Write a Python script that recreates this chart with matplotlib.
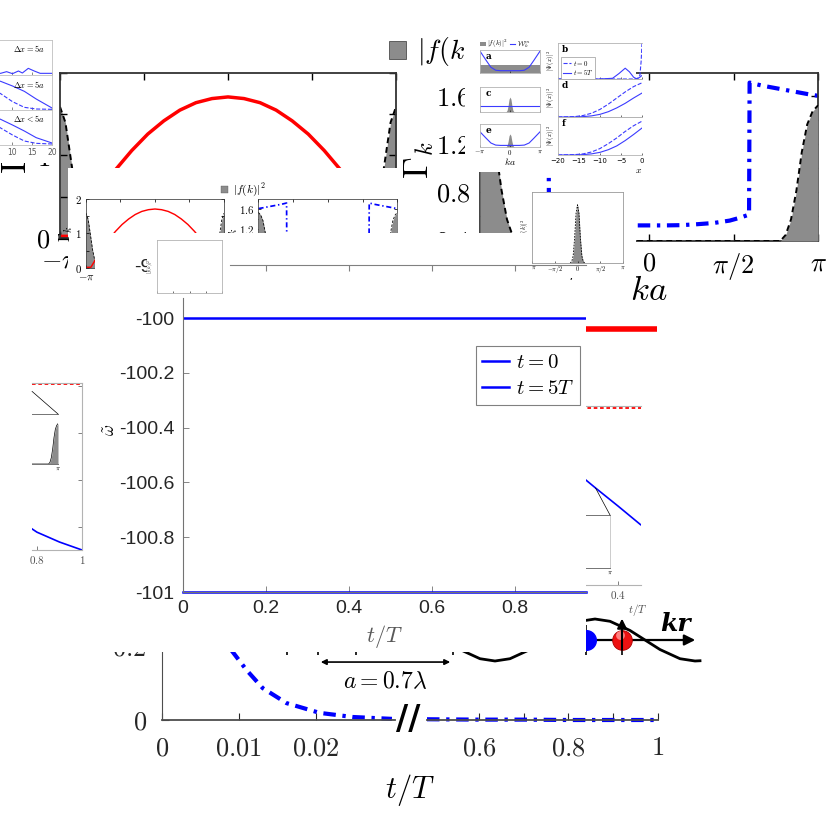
import numpy as np
import matplotlib
matplotlib.use("Agg")
import matplotlib.pyplot as plt
from matplotlib.patches import Patch, ConnectionPatch

plt.rcParams["mathtext.fontset"] = "cm"
plt.rcParams["font.family"] = ["DejaVu Sans"]

pi = np.pi
GREY = "0.55"

# ---------------- data ----------------
# left panel: decay rate Gamma_k (red) and grey |f(k)|^2
ka_red = [-pi, -2.92, -2.7, -2.4, -2.1, -1.8, -1.5, -1.2, -0.9, -0.6, -0.3, 0.0,
          0.3, 0.6, 0.9, 1.2, 1.5, 1.8, 2.1, 2.4, 2.7, 2.92, pi]
gamma_red = [0.02, 0.02, 0.25, 0.56, 0.83, 1.06, 1.26, 1.42, 1.55, 1.64, 1.69, 1.71,
             1.69, 1.64, 1.55, 1.42, 1.26, 1.06, 0.83, 0.56, 0.25, 0.02, 0.02]
ka_fk_left = [-pi, -3.04, -2.94, -2.84, -2.74, -2.64, -2.54, -2.34,
              2.34, 2.54, 2.64, 2.74, 2.84, 2.94, 3.04, pi]
fk_left = [1.59, 1.40, 0.96, 0.52, 0.21, 0.07, 0.02, 0.0,
           0.0, 0.02, 0.07, 0.21, 0.52, 0.96, 1.40, 1.59]

# right panel: Gamma_k (blue dash-dot) and grey |f(k)|^2
ka_blue = [-pi, -3.0, -2.7, -2.4, -2.1, -1.87, -1.86, -1.7, -1.5, -1.2, -0.9, -0.6, -0.3, 0.0,
           0.3, 0.6, 0.9, 1.2, 1.5, 1.7, 1.86, 1.87, 2.1, 2.4, 2.7, 3.0, pi]
gamma_blue = [1.60, 1.61, 1.635, 1.66, 1.685, 1.71, 0.61, 0.585, 0.56, 0.54, 0.53, 0.522, 0.52, 0.52,
              0.52, 0.522, 0.53, 0.54, 0.56, 0.585, 0.61, 1.71, 1.685, 1.66, 1.635, 1.61, 1.60]
ka_fk_right = [-pi, -3.04, -2.94, -2.84, -2.74, -2.64, -2.54, -2.44,
               2.44, 2.54, 2.64, 2.74, 2.84, 2.94, 3.04, pi]
fk_right = [1.13, 1.08, 0.97, 0.74, 0.42, 0.18, 0.05, 0.0,
            0.0, 0.05, 0.18, 0.42, 0.74, 0.97, 1.08, 1.13]

# small inset (Delta x panels)
dx_x = [0, 4, 7, 10, 13, 16, 20]
dx1_x = [5, 7, 8.5, 10, 11.5, 12.5, 14, 15.5, 17, 20]
dx1_y = [0.05, 0.05, 0.10, 0.04, 0.12, 0.06, 0.20, 0.12, 0.05, 0.05]
dx2_solid = [1.0, 0.95, 0.86, 0.72, 0.56, 0.33, 0.06]
dx2_dash = [0.85, 0.7, 0.49, 0.25, 0.08, 0.03, 0.02]
dx3_solid = [1.0, 0.92, 0.77, 0.6, 0.42, 0.22, 0.06]
dx3_dash = [0.9, 0.75, 0.51, 0.3, 0.12, 0.05, 0.03]

# panels a-f
ka_well = [-pi, -2.5, -2.0, -1.5, -1.0, 0.0, 1.0, 1.5, 2.0, 2.5, pi]
w_well = [0.95, 0.55, 0.25, 0.12, 0.1, 0.1, 0.1, 0.12, 0.25, 0.55, 0.95]
ka_flat = [-pi, pi]
w_flat = [0.35, 0.35]
ka_peak = [-0.5, -0.4, -0.3, -0.2, -0.1, 0.0, 0.1, 0.2, 0.3, 0.4, 0.5]
f_peak = [0.0, 0.02, 0.1, 0.35, 0.7, 0.82, 0.7, 0.35, 0.1, 0.02, 0.0]
x_psi = [-20, -16, -14, -12, -10, -8, -6, -4, -2, 0]
psi_d_t0 = [0, 0.01, 0.04, 0.1, 0.2, 0.34, 0.5, 0.66, 0.8, 0.9]
psi_d_t5 = [0, 0, 0.01, 0.03, 0.07, 0.14, 0.24, 0.36, 0.5, 0.63]
psi_f_t0 = [0, 0.01, 0.03, 0.08, 0.17, 0.3, 0.45, 0.62, 0.77, 0.89]
psi_f_t5 = [0, 0, 0.01, 0.03, 0.07, 0.14, 0.24, 0.38, 0.54, 0.71]
x_b5 = [-20, -10, -7, -5.5, -4, -3, -2, -1.2, -0.5, 0]
psi_b_t5 = [0, 0, 0.02, 0.15, 0.3, 0.2, 0.05, 0.0, 0.05, 0.1]
x_b0 = [-20, -2, -1, -0.5, -0.2, 0]
psi_b_t0 = [0, 0, 0.02, 0.1, 0.5, 1.0]

# central panel
t_mid = [0.0, 0.971]
w_t0 = [-100.0, -100.0]
w_t5 = [-101.0, -101.0]

# bottom panel (broken t axis)
t_early = [0.0075, 0.0088, 0.011, 0.0131, 0.0162, 0.0205, 0.0248, 0.0299]
p_early = [0.26, 0.192, 0.133, 0.085, 0.045, 0.019, 0.008, 0.003]
t_late = [0.484, 0.6, 0.7, 0.8, 0.9, 1.0]
p_late = [0.002, 0.001, 0.001, 0.0, 0.0, 0.0]

# side pieces
t_piece = [0.2, 0.3, 0.4, 0.5, 0.6, 0.7, 0.8, 0.9, 1.0]
v_piece = [2.3, 1.93, 1.57, 1.2, 0.95, 0.7, 0.38, 0.17, 0.0]
piece_ref = [3.53, 3.53]
red_ref_t = [0.0, 1.0]
red_ref_v = [0.517, 0.517]

# lattice sketch (x in units of lambda)
kr_x = [0.9, 1.0, 1.075, 1.15, 1.25, 1.325, 1.4, 1.5, 1.575, 1.65, 1.75, 1.825, 1.9, 2.0, 2.075, 2.1]
kr_wave = [-0.454, -0.891, -1.0, -0.891, -0.454, 0.0, 0.454, 0.891, 1.0, 0.891, 0.454, 0.0,
           -0.454, -0.891, -1.0, -0.988]
site_x = [0.035, 0.19, 0.38, 0.865]
atom_x = [1.53, 1.71]

# ---------------- figure ----------------
W, H = 830, 831
fig = plt.figure(figsize=(8.30, 8.31), dpi=100, facecolor="white")


def px(x0, y0, x1, y1):
    return [x0 / W, 1 - y1 / H, (x1 - x0) / W, (y1 - y0) / H]


def white(x0, y0, x1, y1):
    a = fig.add_axes(px(x0, y0, x1, y1))
    a.set_xticks([])
    a.set_yticks([])
    for s in a.spines.values():
        s.set_visible(False)
    a.set_facecolor("white")
    return a


def frame(ax, color, lw):
    for s in ax.spines.values():
        s.set_color(color)
        s.set_linewidth(lw)


def draw_pair(ox, oy, sx, sy):
    k = sx

    def b(x0, y0, x1, y1):
        return px(ox + (x0 - 60) * sx, oy + (y0 - 73) * sy,
                  ox + (x1 - 60) * sx, oy + (y1 - 73) * sy)

    # right panel
    axC = fig.add_axes(b(480, 73, 818, 241))
    axC.plot(ka_blue, gamma_blue, color="b", lw=3 * k, ls=(0, (3, 1.6, 0.8, 1.6)))
    axC.set_xlim(-pi, pi)
    axC.set_ylim(0.39, 1.79)
    axF = axC.twinx()
    axF.fill_between(ka_fk_right, fk_right, color=GREY, lw=0)
    axF.plot(ka_fk_right, fk_right, "k", ls=(0, (3, 2)), lw=1.4 * k)
    axF.set_ylim(0, 1.4)
    axF.set_yticks([])
    for s in axF.spines.values():
        s.set_visible(False)
    axC.set_xticks([-pi, -pi / 2, 0, pi / 2, pi])
    axC.set_xticklabels([r"$-\pi$", r"$-\pi/2$", r"$0$", r"$\pi/2$", r"$\pi$"])
    axC.set_yticks([0.4, 0.6, 0.8, 1.0, 1.2, 1.4, 1.6])
    axC.set_yticklabels([r"$0.4$", "", r"$0.8$", "", r"$1.2$", "", r"$1.6$"])
    axC.tick_params(direction="in", top=True, right=True, length=5 * k, width=0.8 * k + 0.2,
                    labelsize=19 * k, pad=7 * k)
    frame(axC, "0.2", 1.3 * k)
    axC.set_xlabel(r"$ka$", fontsize=25 * k)
    axC.xaxis.set_label_coords(0.5, -0.19)
    axC.set_ylabel(r"$\Gamma_k$", fontsize=25 * k)
    axC.yaxis.set_label_coords(-0.13, 0.482)
    h = Patch(facecolor=GREY, edgecolor="0.3", lw=0.6 * k)
    axC.legend([h], [r"$|f(k)|^2$"], loc="upper left", bbox_to_anchor=(-0.269, 1.238),
               frameon=False, fontsize=20 * k, handlelength=0.6, handleheight=0.6,
               handletextpad=0.4, borderpad=0, borderaxespad=0)

    # left panel
    axB = fig.add_axes(b(60, 73, 396, 238))
    axB.fill_between(ka_fk_left, fk_left, color=GREY, lw=0)
    axB.plot(ka_fk_left, fk_left, "k", ls=(0, (3, 2)), lw=1.4 * k)
    axB.plot(ka_red, gamma_red, color="r", lw=2.5 * k)
    axB.set_xlim(-pi, pi)
    axB.set_ylim(0, 2)
    axB.set_xticks([-pi, -pi / 2, 0, pi / 2, pi])
    axB.set_xticklabels([r"$-\pi$", r"$-\pi/2$", r"$0$", r"$\pi/2$", r"$\pi$"])
    axB.set_yticks([0, 0.5, 1, 1.5, 2])
    axB.set_yticklabels([r"$0$", "", r"$1$", "", r"$2$"])
    axB.tick_params(direction="in", top=True, right=True, length=5 * k, width=0.8 * k + 0.2,
                    labelsize=19 * k, pad=7 * k)
    frame(axB, "0.2", 1.3 * k)
    axB.set_ylabel(r"$\Gamma_k$", fontsize=25 * k)
    axB.yaxis.set_label_coords(-0.077, 0.503)
    return axB, axC


# big copy of the two Gamma_k panels
draw_pair(60, 73, 1.0, 1.0)

# Delta x inset, top left
white(0, 28, 55, 163)
dx_boxes = [(-27, 40, 52, 75), (-27, 75, 52, 110), (-27, 110, 52, 145)]
dx_titles = [r"$\Delta x = 5a$", r"$\Delta x = 5a$", r"$\Delta x < 5a$"]
for i, bx in enumerate(dx_boxes):
    a = fig.add_axes(px(*bx))
    if i == 0:
        a.plot(dx1_x, dx1_y, color="#3b3bff", lw=0.8)
    elif i == 1:
        a.plot(dx_x, dx2_solid, color="#3b3bff", lw=0.8)
        a.plot(dx_x, dx2_dash, color="#3b3bff", lw=0.8, ls="--")
    else:
        a.plot(dx_x, dx3_solid, color="#3b3bff", lw=0.8)
        a.plot(dx_x, dx3_dash, color="#3b3bff", lw=0.8, ls="--")
    a.set_xlim(0, 20)
    a.set_ylim(0, 1.05)
    a.set_yticks([])
    a.set_xticks([10, 15, 20])
    a.tick_params(direction="in", length=2, width=0.5, labelsize=5.5, pad=2,
                  labelbottom=(i == 2), colors="0.35")
    frame(a, "0.75", 0.6)
    a.text(0.91, 0.9, dx_titles[i], transform=a.transAxes, ha="right", va="top", fontsize=6)

# panels a-f inset
white(465, 28, 636, 172)
left_boxes = [(480, 50, 540, 73), (480, 87, 540, 112), (480, 124, 540, 147)]
for i, bx in enumerate(left_boxes):
    a = fig.add_axes(px(*bx))
    if i == 0:
        a.fill_between(ka_flat, w_flat, color=GREY, lw=0, label=r"$|f(k)|^2$")
        a.plot(ka_well, w_well, color="#3b3bff", lw=0.8, label=r"$\mathcal{W}_k^m$")
        a.legend(loc="lower left", bbox_to_anchor=(0.0, 0.98), ncol=2, frameon=False,
                 fontsize=5, handlelength=0.8, handletextpad=0.2, columnspacing=0.3,
                 borderpad=0, borderaxespad=0)
        a.set_ylim(0, 1.0)
    elif i == 1:
        a.fill_between(ka_peak, f_peak, color=GREY, lw=0)
        a.plot(ka_flat, w_flat, color="#3b3bff", lw=0.8)
        a.set_ylim(0, 1.37)
    else:
        a.fill_between(ka_peak, f_peak, color=GREY, lw=0)
        a.plot(ka_well, w_well, color="#3b3bff", lw=0.8)
        a.set_ylim(0, 1.44)
    a.set_xlim(-pi, pi)
    a.set_yticks([])
    a.set_xticks([-pi, 0, pi])
    a.set_xticklabels([r"$-\pi$", r"$0$", r"$\pi$"])
    a.tick_params(direction="in", length=1.5, width=0.4, labelsize=5, pad=1,
                  labelbottom=(i == 2))
    frame(a, "0.7", 0.6)
    a.text(0.1, 0.92, "ace"[i], transform=a.transAxes, ha="left", va="top",
           fontsize=6.5, fontweight="bold", family="DejaVu Serif")
    if i == 2:
        a.set_xlabel(r"$ka$", fontsize=7, labelpad=-1)

right_boxes = [(558, 43, 642, 79), (558, 79, 642, 117), (558, 117, 642, 155)]
for i, bx in enumerate(right_boxes):
    a = fig.add_axes(px(*bx))
    a.set_facecolor("none")
    if i == 0:
        a.plot(x_b0, psi_b_t0, color="#3b3bff", lw=0.8, ls="--", label=r"$t=0$")
        a.plot(x_b5, psi_b_t5, color="#3b3bff", lw=0.8, label=r"$t=5T$")
        a.legend(loc="upper left", bbox_to_anchor=(0.0, 0.7), fontsize=5, handlelength=1.2,
                 handletextpad=0.2, borderpad=0.2, labelspacing=0.1, fancybox=False,
                 edgecolor="0.6", framealpha=1).get_frame().set_linewidth(0.5)
    elif i == 1:
        a.plot(x_psi, psi_d_t0, color="#3b3bff", lw=0.8, ls="--")
        a.plot(x_psi, psi_d_t5, color="#3b3bff", lw=0.8)
    else:
        a.plot(x_psi, psi_f_t0, color="#3b3bff", lw=0.8, ls="--")
        a.plot(x_psi, psi_f_t5, color="#3b3bff", lw=0.8)
    a.set_xlim(-20, 0)
    a.set_ylim(0, 1.0)
    a.set_yticks([])
    a.set_xticks([-20, -15, -10, -5, 0])
    a.tick_params(direction="in", length=1.5, width=0.4, labelsize=5, pad=2,
                  labelbottom=(i == 2))
    frame(a, "0.7", 0.6)
    a.spines["right"].set_visible(False)
    a.set_ylabel(r"$|\Psi(x)|^2$", fontsize=4.5, labelpad=1)
    a.text(0.04, 0.95, "bdf"[i], transform=a.transAxes, ha="left", va="top",
           fontsize=6.5, fontweight="bold", family="DejaVu Serif")
    if i == 2:
        a.set_xlabel(r"$x$", fontsize=7, labelpad=1, loc="right")

# small |f(k)|^2 inset inside the right panel
white(532, 192, 636, 278)
axG = fig.add_axes(px(532, 192, 623, 263))
axG.fill_between(ka_peak, f_peak, color=GREY, lw=0)
axG.plot(ka_peak, f_peak, "k", ls=(0, (2, 1.5)), lw=0.6)
axG.set_xlim(-pi, pi)
axG.set_ylim(0, 1.0)
axG.set_yticks([])
axG.set_xticks([-pi, -pi / 2, 0, pi / 2, pi])
axG.set_xticklabels([r"$-\pi$", r"$-\pi/2$", r"$0$", r"$\pi/2$", r"$\pi$"])
axG.tick_params(direction="in", length=1.5, width=0.4, labelsize=4.5, pad=1)
frame(axG, "0.6", 0.6)
axG.set_ylabel(r"$|f(k)|^2$", fontsize=4.5, labelpad=1)

# shrunken copy of the same two panels
white(68, 168, 397, 300)
draw_pair(86, 199, 0.4107, 0.418)

# strip covering the lower part of the small copy
white(95, 233, 532, 300)
axGh = fig.add_axes(px(183, 265, 586, 300))
axGh.set_facecolor("none")
axGh.set_xlim(0, 0.971)
axGh.set_ylim(0, 1)
axGh.set_xticks([0.2, 0.4, 0.6, 0.8])
axGh.set_xticklabels([])
axGh.set_yticks([1])
axGh.set_yticklabels(["-99.9"])
axGh.tick_params(axis="x", direction="in", top=True, bottom=False, length=4, colors="0.5")
axGh.tick_params(axis="y", length=0, labelsize=14, labelcolor="#262626", labelfontfamily="Liberation Sans")
for side in ["left", "right", "bottom"]:
    axGh.spines[side].set_visible(False)
axGh.spines["top"].set_color("0.5")
axGh.spines["top"].set_bounds(0.113, 0.971)

white(147, 240, 222, 300)
axBI = fig.add_axes(px(157, 240, 222, 293))
axBI.set_xlim(-pi, pi)
axBI.set_xticks([-pi, -pi / 2, 0, pi / 2, pi])
axBI.set_xticklabels([r"$-\pi$", r"$-\pi/2$", r"$0$", r"$\pi/2$", r"$\pi$"])
axBI.set_yticks([])
axBI.tick_params(direction="in", length=1.5, width=0.4, labelsize=3.5, pad=1)
frame(axBI, "0.7", 0.6)
axBI.set_ylabel(r"$|f(k)|^2$", fontsize=3.5, labelpad=1)
axBI.set_xlabel(r"$ka$", fontsize=4, labelpad=0)

# bottom panel with broken time axis
axL = fig.add_axes(px(162, 600, 395, 720))
axR = fig.add_axes(px(427, 600, 658, 720))
dashdot = (0, (3, 1.6, 0.8, 1.6))
axL.plot(t_early, p_early, color="b", lw=3, ls=dashdot, clip_on=False)
axR.plot(t_late, p_late, color="b", lw=3, ls=dashdot, clip_on=False)
axL.set_xlim(0, 0.0303)
axR.set_xlim(0.484, 1.0)
for a in (axL, axR):
    a.set_facecolor("none")
    a.set_ylim(0, 0.32)
    a.spines["top"].set_visible(False)
    a.spines["right"].set_visible(False)
    a.tick_params(direction="in", length=5, labelsize=19, pad=11, colors="0.15")
    a.spines["left"].set_color("0.3")
    a.spines["bottom"].set_color("0.3")
    a.spines["bottom"].set_linewidth(1.3)
axL.set_xticks([0, 0.01, 0.02])
axL.set_xticklabels([r"$0$", r"$0.01$", r"$0.02$"])
axL.set_yticks([0, 0.2])
axL.set_yticklabels([r"$0$", r"$0.2$"])
axR.spines["left"].set_visible(False)
axR.set_yticks([])
axR.set_xticks([0.6, 0.7, 0.8, 0.9, 1.0])
axR.set_xticklabels([r"$0.6$", "", r"$0.8$", "", r"$1$"])
fig.text(408 / W, 1 - 720 / H, "//", fontsize=24, fontweight="bold", ha="center", va="center")
fig.text(410 / W, 1 - 790 / H, r"$t/T$", fontsize=22, ha="center", va="center")

# lattice sketch with the wave and the two atoms
axK = fig.add_axes(px(280, 600, 720, 700))
axK.set_xlim(0, 2.2)
axK.set_ylim(-2.857, 1.905)
axK.axis("off")
axK.plot(kr_x, kr_wave, "k", lw=2)
axK.vlines(site_x + atom_x, -0.7, 0.7, color="k", lw=1.2)
axK.annotate("", xy=(2.09, 0), xytext=(0.0, 0),
             arrowprops=dict(arrowstyle="-|>", color="k", lw=1.6, mutation_scale=16))
axK.annotate("", xy=(site_x[1], -1.05), xytext=(site_x[3], -1.05),
             arrowprops=dict(arrowstyle="<|-|>", color="k", lw=1.2, mutation_scale=8))
axK.scatter([atom_x[0]], [0], s=200, color="b", zorder=5)
axK.scatter([atom_x[1]], [0], s=200, color="#ee1111", edgecolor="#aa0000", lw=0.6, zorder=5)
axK.scatter([atom_x[1] - 0.012], [0.25], s=40, color="#ff8080", lw=0, zorder=6)
axK.annotate("", xy=(atom_x[1], 1.15), xytext=(atom_x[1], -0.6),
             arrowprops=dict(arrowstyle="-|>", color="k", lw=1.5, mutation_scale=14), zorder=7)
axK.text(1.975, 0.78, "kr", fontsize=18, fontweight="bold", fontstyle="italic",
         family="DejaVu Serif", ha="center", va="center")
axK.text((site_x[1] + site_x[3]) / 2, -1.95, r"$a = 0.7\lambda$", fontsize=17, ha="center", va="center")


# side pieces of another copy
def piece(box, xlim, ticks, labels):
    a = fig.add_axes(px(*box))
    a.plot(t_piece, v_piece, color="b", lw=1.2)
    a.plot(xlim, piece_ref, color="r", lw=1.3, ls=(0, (2, 1.5)))
    a.set_xlim(*xlim)
    a.set_ylim(0, 3.56)
    a.set_xticks(ticks)
    a.set_xticklabels(labels)
    a.set_yticks([0.5, 1.5, 2.5, 3.5])
    a.set_yticklabels([])
    a.tick_params(direction="in", length=3, width=0.5, labelsize=8, pad=3,
                  left=False, right=True, colors="0.3")
    frame(a, "0.7", 0.8)
    a.spines["left"].set_visible(False)
    return a


axP1 = piece((32, 383, 82, 550), (0.778, 1.0), [0.8, 1.0], [r"$0.8$", r"$1$"])
ins1 = fig.add_axes(px(32, 414, 58, 464))
ins1.fill_between(ka_fk_right, fk_right, color=GREY, lw=0)
ins1.plot(ka_fk_right, fk_right, "k", lw=0.5)
ins1.set_xlim(1.19, pi)
ins1.set_ylim(0, 1.4)
ins1.set_yticks([])
ins1.set_xticks([pi])
ins1.set_xticklabels([r"$\pi$"])
ins1.tick_params(length=0, labelsize=5, pad=1)
frame(ins1, "0.45", 0.7)
ins1.spines["left"].set_visible(False)
ins1.spines["right"].set_visible(False)
fig.add_artist(ConnectionPatch(xyA=(1, 1), coordsA=ins1.transAxes, xyB=(0.0, 0.95),
                               coordsB=axP1.transAxes, color="k", lw=0.5))

axP2 = piece((480, 406, 641, 585), (-0.213, 0.502), [0.4], [r"$0.4$"])
axP2.spines["right"].set_visible(False)
axP2.tick_params(right=False)
ins2 = fig.add_axes(px(480, 515, 610, 568))
ins2.set_xlim(1.19, pi)
ins2.set_yticks([])
ins2.set_xticks([pi])
ins2.set_xticklabels([r"$\pi$"])
ins2.tick_params(length=0, labelsize=5, pad=1)
frame(ins2, "0.45", 0.7)
ins2.spines["right"].set_color("0.8")
ins2.spines["left"].set_visible(False)
fig.add_artist(ConnectionPatch(xyA=(1, 1), coordsA=ins2.transAxes, xyB=(t_piece[1], v_piece[1]),
                               coordsB=axP2.transData, color="k", lw=0.5))
fig.text(638 / W, 1 - 610 / H, r"$t/T$", fontsize=8, ha="center", va="center", color="0.3")

axRed = fig.add_axes(px(586, 300, 657, 360))
axRed.plot(red_ref_t, red_ref_v, color="r", lw=4)
axRed.set_xlim(0, 1)
axRed.set_ylim(0, 1)
axRed.axis("off")

# central panel
white(85, 295, 586, 652)
axM = fig.add_axes(px(183, 298, 586, 592))
axM.plot(t_mid, w_t0, color="b", lw=1.8, label=r"$t=0$")
axM.plot(t_mid, w_t5, color="b", lw=1.8, label=r"$t=5T$", clip_on=False)
axM.set_xlim(0, 0.971)
axM.set_ylim(-101, -99.927)
axM.set_yticks([-101, -100.8, -100.6, -100.4, -100.2, -100])
axM.set_yticklabels(["-101", "-100.8", "-100.6", "-100.4", "-100.2", "-100"])
axM.set_xticks([0, 0.2, 0.4, 0.6, 0.8])
axM.set_xticklabels(["0", "0.2", "0.4", "0.6", "0.8"])
axM.tick_params(direction="in", length=4, width=0.6, labelsize=14, pad=6, color="0.45",
                labelcolor="#262626", labelfontfamily="Liberation Sans")
axM.spines["top"].set_visible(False)
axM.spines["right"].set_visible(False)
axM.spines["left"].set_color("0.45")
axM.spines["bottom"].set_color("0.45")
axM.set_xlabel(r"$t/T$", fontsize=16, color="0.35")
axM.xaxis.set_label_coords(0.5, -0.105)
leg = axM.legend(loc="upper left", bbox_to_anchor=(0.727, 0.837), fontsize=15, handlelength=1.3,
                 handletextpad=0.3, borderpad=0.3, labelspacing=0.3, fancybox=False,
                 edgecolor="0.5", framealpha=1, borderaxespad=0)
leg.get_frame().set_linewidth(0.8)
fig.text(110 / W, 1 - 430 / H, r"$\tilde{\omega}$", rotation=90, fontsize=12, ha="center", va="center")

fig.savefig("out.png", dpi=100)
